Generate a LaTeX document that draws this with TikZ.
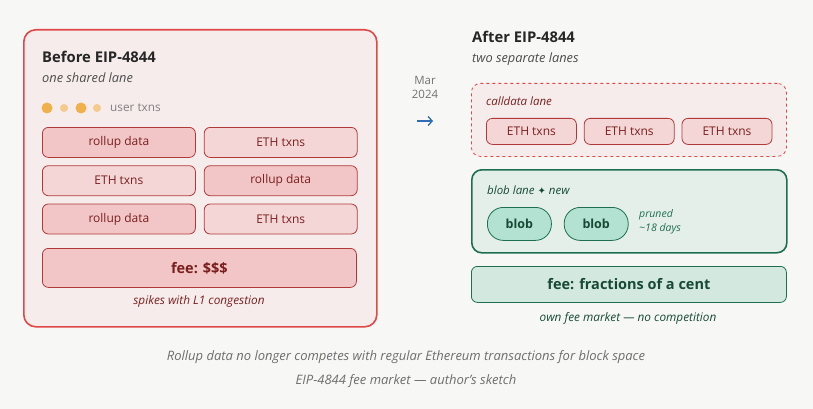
\documentclass[tikz,border=0pt]{standalone}
\usepackage{fontspec}
\setmainfont{Open Sans}
\newfontfamily\symfont{DejaVu Sans}
\usepackage{xcolor}
\usetikzlibrary{positioning, arrows.meta}

\definecolor{pagebg}{HTML}{F7F7F5}
\definecolor{beforefill}{HTML}{F7ECEC}
\definecolor{beforeline}{HTML}{E04848}
\definecolor{cellline}{HTML}{B03A3A}
\definecolor{rollupfill}{HTML}{F2C6C6}
\definecolor{ethfill}{HTML}{F5D6D6}
\definecolor{redtext}{HTML}{7A1F1F}
\definecolor{dotdark}{HTML}{F0B04A}
\definecolor{dotlight}{HTML}{F5CA8A}
\definecolor{arrowblue}{HTML}{2F6DB5}
\definecolor{greenline}{HTML}{1F6E52}
\definecolor{greenfill}{HTML}{E4EFEA}
\definecolor{blobfill}{HTML}{B3E2D2}
\definecolor{feegreen}{HTML}{D3E8DF}
\definecolor{greentext}{HTML}{174A36}
\definecolor{captiongray}{HTML}{6E6E6E}

\begin{document}
\begin{tikzpicture}[
    x=1pt, y=-1pt,
    node distance=7.5pt and 8pt,
    lane/.style={rectangle, rounded corners=12pt, line width=1.6pt, anchor=north west, inner sep=0pt},
    cell/.style={rectangle, draw=cellline, rounded corners=6pt, line width=0.8pt, minimum width=153pt, minimum height=30pt, text=redtext, font=\fontsize{12}{14}\selectfont},
    rollupcell/.style={cell, fill=rollupfill},
    ethcell/.style={cell, fill=ethfill},
    smallcell/.style={cell, fill=ethfill, minimum width=90pt, minimum height=26pt},
    blobpill/.style={rectangle, rounded corners=16pt, draw=greenline, line width=0.8pt, fill=blobfill, minimum width=64pt, minimum height=33pt, text=greentext, font=\fontsize{12.5}{14}\selectfont\bfseries},
    heading/.style={anchor=base west, inner sep=0pt, font=\fontsize{14.8}{17}\selectfont\bfseries, text=black!85},
    subheading/.style={anchor=base west, inner sep=0pt, font=\fontsize{12.8}{14}\selectfont\itshape, text=black!70},
    note/.style={inner sep=0pt, font=\fontsize{11.8}{13}\selectfont\itshape},
    userdot/.style={circle, inner sep=0pt, draw=none}
]

% Background
\useasboundingbox[fill=pagebg] (0,0) rectangle (813,409);

% Before EIP-4844
\node[lane, draw=beforeline, fill=beforefill, minimum width=353pt, minimum height=297pt] (before) at (23,29) {};
\node[heading] (beforetitle) at (42,63) {Before EIP-4844};
\node[subheading] (beforesub) at (42,83) {one shared lane};

\node[userdot, fill=dotdark, minimum size=11pt] (dota) at (47,108) {};
\node[userdot, fill=dotlight, minimum size=8pt] (dotb) at (64,108) {};
\node[userdot, fill=dotdark, minimum size=11pt] (dotc) at (81,108) {};
\node[userdot, fill=dotlight, minimum size=8pt] (dotd) at (97,108) {};
\node[anchor=west, inner sep=0pt, text=black!50, font=\fontsize{11.8}{13}\selectfont] (usertxns) at (110,108) {user txns};

\node[rollupcell, anchor=north west] (cellaa) at (42,127) {rollup data};
\node[ethcell, right=of cellaa] (cellab) {ETH txns};
\node[ethcell, below=of cellaa] (cellba) {ETH txns};
\node[rollupcell, right=of cellba] (cellbb) {rollup data};
\node[rollupcell, below=of cellba] (cellca) {rollup data};
\node[ethcell, right=of cellca] (cellcb) {ETH txns};

\node[cell, fill=rollupfill, anchor=north west, minimum width=314pt, minimum height=39pt, font=\fontsize{14.5}{16}\selectfont\bfseries] (feebefore) at (42,248) {fee: \$\$\$};
\node[note, text=redtext] (spikes) at (199,301) {spikes with L1 congestion};

% Transition
\node[inner sep=0pt, align=center, text=black!55, font=\fontsize{11.5}{14}\selectfont] (date) at (425,87) {Mar\\2024};
\coordinate (arrowstart) at (417,121);
\coordinate (arrowend) at (433,121);
\draw[arrowblue, line width=1.3pt, -{Straight Barb[length=4pt, width=9pt]}] (arrowstart) -- (arrowend);

% After EIP-4844
\node[heading] (aftertitle) at (472,43) {After EIP-4844};
\node[subheading] (aftersub) at (472,63) {two separate lanes};

\node[lane, draw=beforeline, fill=beforefill, dashed, line width=0.8pt, rounded corners=9pt, minimum width=315pt, minimum height=73pt] (calldata) at (471,83) {};
\node[note, anchor=base west, text=redtext, font=\fontsize{11.5}{13}\selectfont\itshape] (calldatalabel) at (486,106) {calldata lane};
\node[smallcell, anchor=north west] (ethone) at (486,118) {ETH txns};
\node[smallcell, right=7pt of ethone] (ethtwo) {ETH txns};
\node[smallcell, right=7pt of ethtwo] (eththree) {ETH txns};

\node[lane, draw=greenline, fill=greenfill, rounded corners=10pt, minimum width=315pt, minimum height=83pt] (bloblane) at (471,169) {};
\node[note, anchor=base west, text=greentext, font=\fontsize{11.5}{13}\selectfont\itshape] (bloblabel) at (487,194) {blob lane {\symfont\fontsize{10}{10}\selectfont ✦} new};
\node[blobpill, anchor=north west] (blobone) at (487,207) {blob};
\node[blobpill, right=12pt of blobone] (blobtwo) {blob};
\node[note, anchor=west, align=left, text=greenline, font=\fontsize{10.5}{14}\selectfont\itshape] (pruned) at (639,222) {pruned\\\textasciitilde18 days};

\node[cell, draw=greenline, fill=feegreen, anchor=north west, minimum width=315pt, minimum height=36pt, text=greentext, font=\fontsize{14.5}{16}\selectfont\bfseries] (feeafter) at (471,266) {fee: fractions of a cent};
\node[note, text=greentext] (ownmarket) at (628,318) {own fee market --- no competition};

% Caption
\node[note, text=captiongray, font=\fontsize{13}{15}\selectfont\itshape] (captionone) at (406,357) {Rollup data no longer competes with regular Ethereum transactions for block space};
\node[note, text=captiongray, font=\fontsize{13}{15}\selectfont\itshape] (captiontwo) at (406,381) {EIP-4844 fee market --- author's sketch};

\end{tikzpicture}
\end{document}
